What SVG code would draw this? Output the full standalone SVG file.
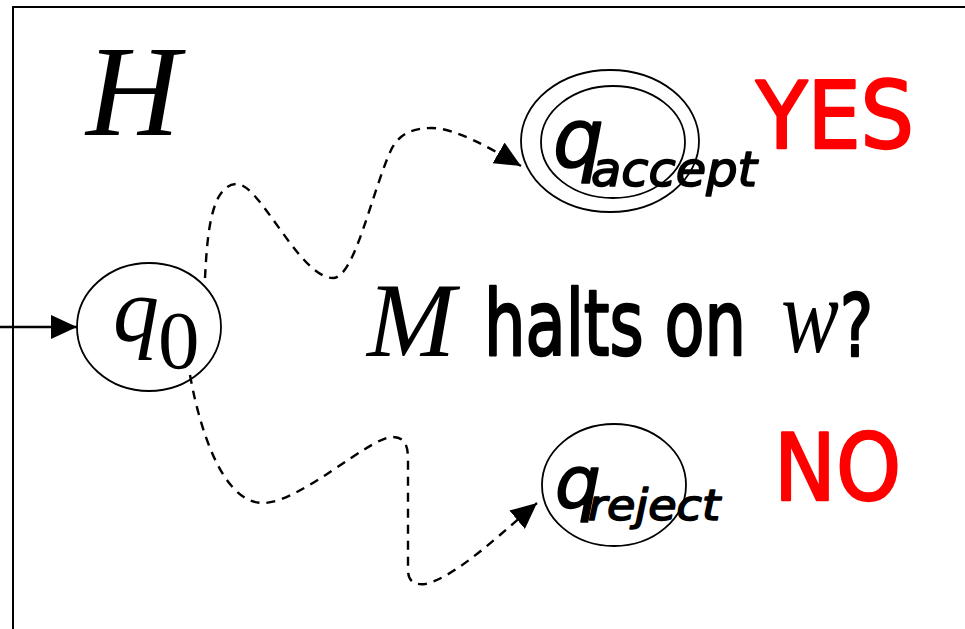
<svg xmlns="http://www.w3.org/2000/svg" width="965" height="629" viewBox="0 0 965 629">
  <style>
    .state { fill: none; stroke: #000; stroke-width: 1.8; }
    .edge { fill: none; stroke: #000; stroke-width: 2.4; }
    .dashed { stroke-dasharray: 9 7; }
    .math { font-family: "Liberation Serif", "Times New Roman", serif; font-style: italic; fill: #000; }
    .roman { font-family: "Liberation Serif", "Times New Roman", serif; fill: #000; }
    .hand { font-family: "DejaVu Sans", "Noto Sans", sans-serif; fill: #000; stroke: #000; stroke-width: 1.6; stroke-linejoin: round; }
    .heavy { stroke-width: 2.6; }
    .slant { font-style: italic; }
    .answer { font-family: "DejaVu Sans", "Noto Sans", sans-serif; fill: #ff0000; stroke: #ff0000; stroke-width: 2.4; stroke-linejoin: round; }
  </style>
  <defs>
    <marker id="arrow" viewBox="0 0 26 24" refX="26" refY="12" markerWidth="26" markerHeight="24" markerUnits="userSpaceOnUse" orient="auto">
      <path d="M0,0 L26,12 L0,24 z" fill="#000"/>
    </marker>
  </defs>

  <rect width="965" height="629" fill="#fff"/>

  <!-- machine frame -->
  <path d="M13,629 V7 H965" fill="none" stroke="#000" stroke-width="2"/>

  <text class="math" x="86" y="135" font-size="130">H</text>

  <!-- transitions -->
  <g id="connectors">
    <line class="edge" x1="0" y1="327" x2="77" y2="327" marker-end="url(#arrow)"/>
    <path class="edge dashed" d="M205,278 C207,240 210,184 237,184 C260,184 300,278 333,278 C355,278 372,190 392,148 C400,134 412,128 432,128 C455,128 490,148 521,166" marker-end="url(#arrow)"/>
    <path class="edge dashed" d="M190,375 C198,420 220,503 263,503 C300,503 370,437 392,437 C405,437 408,445 408,460 L408,570 C408,582 415,585 425,584 C455,578 505,530 537,503" marker-end="url(#arrow)"/>
  </g>

  <g id="q0">
    <ellipse class="state" cx="149" cy="327" rx="72" ry="64"/>
    <text class="math" x="113" y="341" font-size="92">q</text>
    <text class="roman" x="158" y="368" font-size="83">0</text>
  </g>

  <g id="q_accept">
    <ellipse class="state" cx="610" cy="141" rx="89" ry="71"/>
    <ellipse class="state" cx="613" cy="142" rx="72" ry="56"/>
    <text class="hand slant" x="553" y="166" font-size="80">q</text>
    <text class="hand slant" x="591" y="186" font-size="48" textLength="166" lengthAdjust="spacingAndGlyphs">accept</text>
  </g>

  <g id="q_reject">
    <ellipse class="state" cx="614" cy="485" rx="72" ry="61"/>
    <text class="hand slant" x="555" y="507" font-size="72">q</text>
    <text class="hand slant" x="588" y="520" font-size="42" textLength="132" lengthAdjust="spacingAndGlyphs">reject</text>
  </g>

  <text class="answer" x="756" y="148" font-size="93" textLength="158" lengthAdjust="spacingAndGlyphs">YES</text>
  <text class="answer" x="774" y="500" font-size="92" textLength="127" lengthAdjust="spacingAndGlyphs">NO</text>

  <!-- question -->
  <text class="math" x="367" y="356" font-size="106">M</text>
  <text class="hand heavy" x="484" y="355" font-size="90" textLength="262" lengthAdjust="spacingAndGlyphs">halts on</text>
  <text class="math" x="781" y="352" font-size="108" textLength="58" lengthAdjust="spacingAndGlyphs">w</text>
  <text class="hand heavy" x="840" y="356" font-size="86" textLength="33" lengthAdjust="spacingAndGlyphs">?</text>
</svg>
